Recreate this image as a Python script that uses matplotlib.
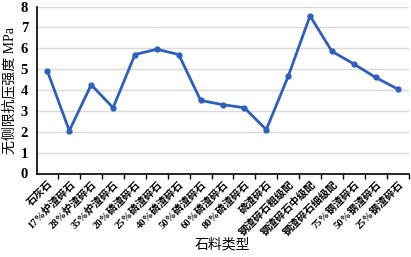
import matplotlib.pyplot as plt
import numpy as np

# Data from the chart
materials = ['石灰石', '17%炉渣碎石', '28%炉渣碎石', '35%炉渣碎石', '20%磷渣碎石',
             '25%磷渣碎石', '40%磷渣碎石', '50%磷渣碎石', '60%磷渣碎石', '80%磷渣碎石',
             '磷渣碎石', '钢渣碎石粗级配', '钢渣碎石中级配', '钢渣碎石细级配',
             '75%钢渣碎石', '50%钢渣碎石', '25%钢渣碎石']
strength_mpa = [4.9, 2.05, 4.25, 3.15, 5.7, 5.95, 5.7, 3.5, 3.3, 3.15,
                2.1, 4.65, 7.55, 5.85, 5.25, 4.6, 4.05]
y_ticks = [0, 1, 2, 3, 4, 5, 6, 7, 8]

plt.rcParams['font.family'] = ['Liberation Serif', 'Noto Sans CJK SC']
plt.rcParams['font.weight'] = 'bold'

fig = plt.figure(figsize=(4.11, 2.57), dpi=100)
ax = fig.add_axes([36.5 / 411, 1 - 173.5 / 257, 372 / 411, 167 / 257])

x = np.arange(len(materials))
ax.plot(x, strength_mpa, color='#2E5EBE', linewidth=2, marker='o', markersize=3.5)

ax.set_xlim(-0.5, len(materials) - 0.5)
ax.set_ylim(0, 8)
ax.set_yticks(y_ticks)
ax.grid(axis='y', color='#d9d9d9', linewidth=1)
ax.set_axisbelow(True)

ax.set_xticks(x)
ax.set_xticklabels(materials, rotation=45, ha='right', va='top',
                   rotation_mode='anchor', fontsize=7.5)
ax.tick_params(axis='x', which='major', length=0, pad=4)
ax.set_xticks(np.arange(len(materials)) + 0.5, minor=True)
ax.tick_params(axis='x', which='minor', length=3.5, width=1, direction='out')
ax.tick_params(axis='y', length=0, labelsize=10.5, pad=6)

for side in ['top', 'right']:
    ax.spines[side].set_visible(False)
ax.spines['left'].set_linewidth(1.2)
ax.spines['bottom'].set_linewidth(1.2)

ax.set_ylabel('无侧限抗压强度 MPa', fontsize=10, labelpad=3)
ax.set_xlabel('石料类型', fontsize=10, labelpad=0)

plt.savefig('out.png', dpi=100)
